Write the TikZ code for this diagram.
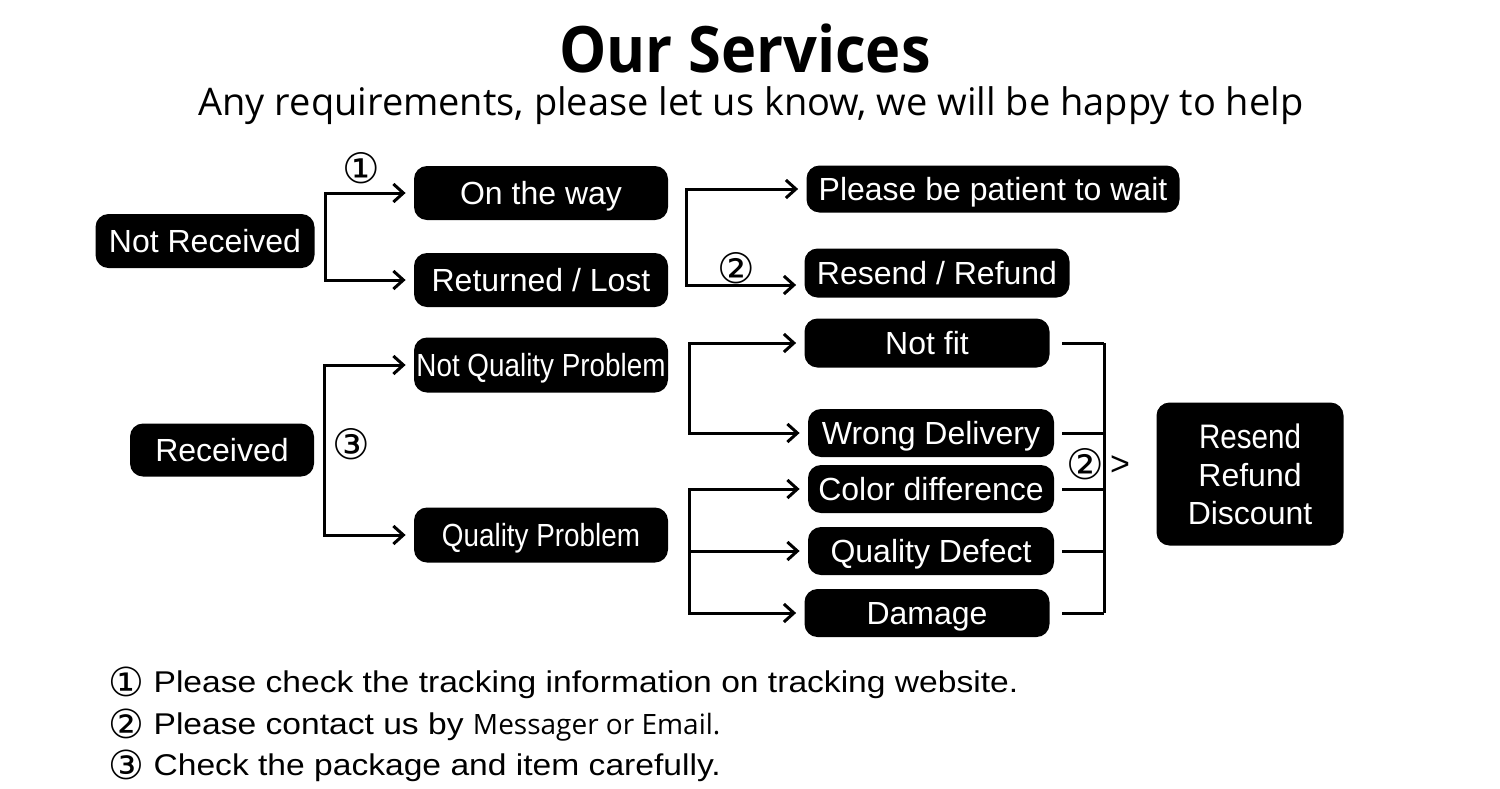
\documentclass[tikz,border=0pt]{standalone}
\usepackage{fontspec}
\setmainfont{Liberation Sans}
\newfontfamily\titlefont[FakeStretch=0.93]{Open Sans}
\newfontfamily\msgfont{Open Sans}
\newfontfamily\narrowfont[FakeStretch=0.87]{Liberation Sans}
\newfontfamily\notefont[FakeStretch=1.12]{Liberation Sans}
\newfontfamily\symfont{DejaVu Sans}
\newcommand{\circnum}[1]{\raisebox{-2pt}{\symfont\fontsize{20}{20}\selectfont #1}}
\usepackage{tikz}
\usetikzlibrary{positioning, arrows.meta, calc}

\begin{document}
\begin{tikzpicture}[x=0.5pt, y=-0.5pt]
        % Styles
        \tikzstyle{process} = [rectangle, rounded corners=6.5pt, fill=black,
        text=white, inner sep=0pt, align=center,
        font=\fontsize{16}{19}\selectfont]
        \tikzstyle{oneline} = [process, text height=11.5pt, text depth=0pt]
        \tikzstyle{link} = [line width=1.5pt, shorten >=4pt,
        -{Straight Barb[length=5pt,width=9pt]}]
        \tikzstyle{bar} = [line width=1.5pt]
        \tikzstyle{num} = [inner sep=1pt, font=\symfont\fontsize{21}{21}\selectfont]
        \tikzstyle{note} = [anchor=base west, inner sep=0pt,
        font=\notefont\fontsize{15}{18}\selectfont]

        \useasboundingbox (0,0) rectangle (1500,788);

        % Heading
        \node (title) at (745,48)
        {\titlefont\bfseries\fontsize{32}{36}\selectfont Our Services};
        \node (sub) at (751,106)
        {\msgfont\fontsize{19}{22}\selectfont Any requirements, please let us know, we will be happy to help};

        % Nodes
        \node (nr) [oneline, minimum width=109.5pt, minimum height=27pt] at (205,241)
        {Not Received};
        \node (otw) [oneline, minimum width=127pt, minimum height=27pt] at (541,193)
        {On the way};
        \node (rl) [oneline, minimum width=127pt, minimum height=27pt] at (541,280)
        {Returned / Lost};
        \node (wait) [oneline, minimum width=186.5pt, minimum height=23.5pt] at (993,189)
        {Please be patient to wait};
        \node (rr) [oneline, minimum width=132.5pt, minimum height=24.5pt] at (937,273)
        {Resend / Refund};
        \node (rec) [oneline, minimum width=92pt, minimum height=26.5pt] at (222,450)
        {Received};
        \node (nqp) [oneline, minimum width=127pt, minimum height=27.5pt] at (541,365)
        {\narrowfont Not Quality Problem};
        \node (qp) [oneline, minimum width=127pt, minimum height=27.5pt] at (541,535)
        {\narrowfont Quality Problem};
        \node (fit) [oneline, minimum width=122.5pt, minimum height=24.5pt] at (927,343)
        {Not fit};
        \node (wd) [oneline, minimum width=123pt, minimum height=24pt] at (931,433)
        {Wrong Delivery};
        \node (cd) [oneline, minimum width=123pt, minimum height=24pt] at (931,489)
        {Color difference};
        \node (qd) [oneline, minimum width=123pt, minimum height=24pt] at (931,551)
        {Quality Defect};
        \node (dmg) [oneline, minimum width=122.5pt, minimum height=24pt] at (927,613)
        {Damage};
        \node (rrd) [process, minimum width=93.5pt, minimum height=71.5pt] at (1250,474)
        {\narrowfont\fontsize{17}{20.5}\selectfont Resend\\Refund\\Discount};

        % Branch points
        \coordinate (j1) at ($(nr.east)+(11,0)$);
        \coordinate (j2) at ($(otw.east)!0.5!(rl.east)+(18,0)$);
        \coordinate (j3) at ($(rec.east)+(10,0)$);
        \coordinate (j4) at ($(nqp.east)+(21,0)$);
        \coordinate (j5) at ($(qp.east)+(21,0)$);
        \coordinate (ra) at (1062,476);
        \coordinate (rb) at (1104,476);

        % Arrows
        \draw[link] (j1) |- node[num, pos=0.7, above=3pt] (c1) {①} (otw);
        \draw[link] (j1) |- (rl);
        \draw[link] (j2) |- (wait);
        \draw[link] (j2) |- node[num, pos=0.71, above=-1pt] (c2) {②} ([yshift=-6pt]rr.west);
        \draw[link] (j3) |- (nqp);
        \draw[link] (j3) |- (qp);
        \node (c3) [num, right=3pt of j3, yshift=3pt] {③};
        \draw[link] (j4) |- (fit);
        \draw[link] (j4) |- (wd);
        \draw[link] (j5) |- (cd);
        \draw[link] (j5) |- (qd);
        \draw[link] (j5) |- (dmg);
        \foreach \s in {fit,wd,cd,qd,dmg}
            \draw[bar] (\s.east -| ra) -- (\s.east -| rb);
        \draw[bar] (fit.east -| rb) -- (dmg.east -| rb);
        \node (c4) [num] at (1085,464) {②};
        \node (gt) [font=\fontsize{17}{17}\selectfont] at (1120,466) {>};

        % Notes
        \node (note1) [note] at (108,692)
        {\circnum{①} Please check the tracking information on tracking website.};
        \node (note2) [note] at (108,734)
        {\circnum{②} Please contact us by {\msgfont\fontsize{14}{17}\selectfont Messager or Email.}};
        \node (note3) [note] at (108,775)
        {\circnum{③} Check the package and item carefully.};
    \end{tikzpicture}
\end{document}
